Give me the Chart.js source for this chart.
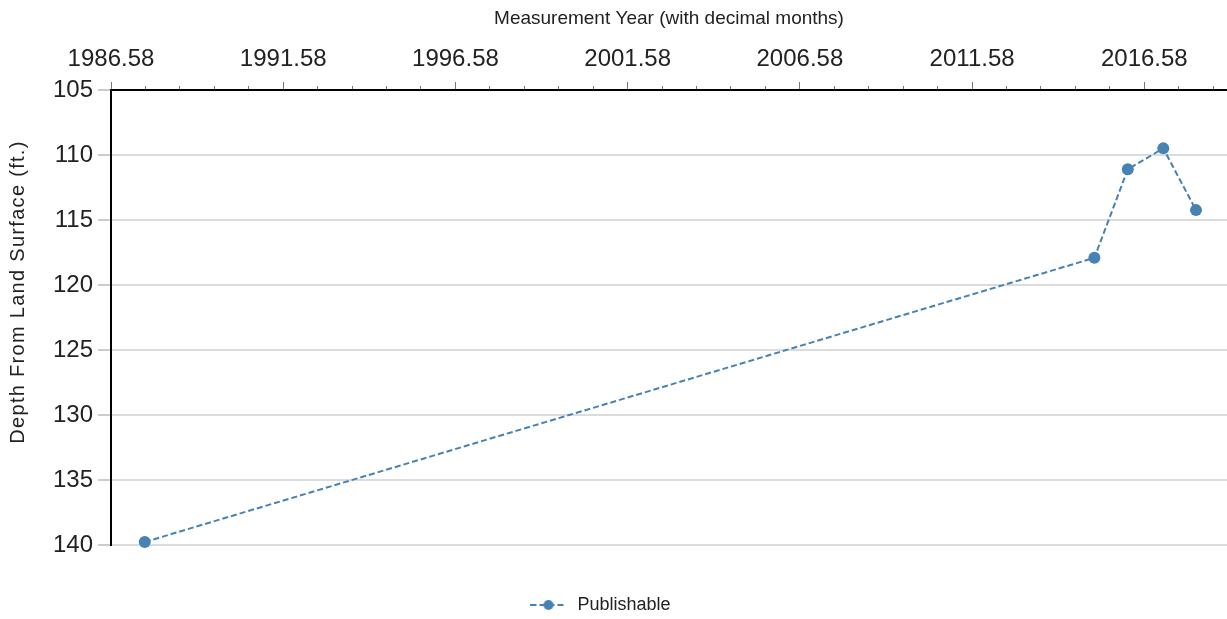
<!DOCTYPE html>
<html><head><meta charset="utf-8">
<script src="https://cdn.jsdelivr.net/npm/chart.js@4"></script>
<style>html,body{margin:0;padding:0;background:#fff;} canvas{display:block;}</style>
</head><body>
<canvas id="c" width="1227" height="619"></canvas>
<script>
// ---- data ----
const measurementYears = [1987.56, 2015.13, 2016.10, 2017.13, 2018.08];
const depthValues = [139.77, 117.91, 111.10, 109.49, 114.24];
const seriesName = 'Publishable';
const majorTickLabels = ['1986.58', '1991.58', '1996.58', '2001.58', '2006.58', '2011.58', '2016.58'];
const depthTicks = [105, 110, 115, 120, 125, 130, 135, 140];
const xTitle = 'Measurement Year (with decimal months)';
const yTitle = 'Depth From Land Surface (ft.)';

// ---- styling ----
const FONT = 'Arial, "Liberation Sans", Helvetica, sans-serif';
const COLOR = '#4682b4';
const X_MIN = 1986.58, X_MAX = 2018.98;

const xTickValues = [];
for (let k = 0; k <= 32; k++) xTickValues.push(Math.round((X_MIN + k) * 100) / 100);
const majorValues = majorTickLabels.map(Number);
const isMajor = v => majorValues.some(m => Math.abs(m - v) < 1e-6);

function legendSymbol() {
  const c = document.createElement('canvas');
  c.width = 36; c.height = 12;
  const g = c.getContext('2d');
  g.strokeStyle = COLOR; g.lineWidth = 2; g.setLineDash([6, 3]);
  g.beginPath(); g.moveTo(0, 6); g.lineTo(36, 6); g.stroke();
  g.setLineDash([]);
  g.fillStyle = COLOR; g.beginPath(); g.arc(18, 6, 5, 0, Math.PI * 2); g.fill();
  return c;
}

const legendShift = {
  id: 'legendShift',
  afterLayout(chart) {
    const l = chart.legend;
    if (l) { l.left -= 14; l.right -= 14; }
  }
};

const yTitlePlugin = {
  id: 'yTitlePlugin',
  afterDraw(chart) {
    const ctx = chart.ctx;
    ctx.save();
    ctx.translate(18, 292);
    ctx.rotate(-Math.PI / 2);
    ctx.font = '20px ' + FONT;
    try { ctx.letterSpacing = '1.3px'; } catch (e) {}
    ctx.fillStyle = '#222';
    ctx.textAlign = 'center';
    ctx.textBaseline = 'middle';
    ctx.fillText(yTitle, 0, 0);
    ctx.restore();
  }
};

new Chart(document.getElementById('c'), {
  type: 'line',
  data: {
    datasets: [{
      label: seriesName,
      data: measurementYears.map((x, i) => ({ x, y: depthValues[i] })),
      borderColor: COLOR,
      backgroundColor: COLOR,
      borderWidth: 2,
      borderDash: [6, 3],
      pointRadius: 6,
      pointBorderWidth: 0,
      pointBackgroundColor: COLOR,
      tension: 0,
      clip: false
    }]
  },
  options: {
    responsive: false,
    animation: false,
    layout: { padding: 0, autoPadding: false },
    scales: {
      x: {
        type: 'linear', position: 'top', min: X_MIN, max: X_MAX,
        afterBuildTicks: s => { s.ticks = xTickValues.map(v => ({ value: v })); },
        afterFit: s => { s.height = 90; s.paddingLeft = 0; s.paddingRight = 0; },
        ticks: {
          autoSkip: false, maxRotation: 0, padding: 8,
          font: { family: FONT, size: 24 }, color: '#222',
          callback: v => {
            const m = majorTickLabels.find(l => Math.abs(Number(l) - v) < 1e-6);
            return m || '';
          }
        },
        grid: {
          drawOnChartArea: false, drawTicks: true, tickLength: 8,
          tickColor: '#777', tickWidth: 1,
          tickBorderDash: ctx => (ctx.tick && !isMajor(ctx.tick.value)) ? [0, 4, 20, 0] : []
        },
        border: { display: true, color: '#000', width: 2 },
        title: {
          display: true, text: xTitle, color: '#222',
          font: { family: FONT, size: 19 }, padding: { top: 7, bottom: 0 }
        }
      },
      y: {
        type: 'linear', reverse: true, min: 105, max: 140,
        afterBuildTicks: s => { s.ticks = depthTicks.map(v => ({ value: v })); },
        afterFit: s => { s.width = 111; s.paddingTop = 0; s.paddingBottom = 0; },
        ticks: { padding: 5, font: { family: FONT, size: 24 }, color: '#222' },
        grid: { color: '#dcdcdc', lineWidth: 2, tickLength: 13, tickColor: '#999', tickWidth: 1 },
        border: { display: true, color: '#000', width: 2 },
        title: { display: false, text: yTitle }
      }
    },
    plugins: {
      tooltip: { enabled: false },
      legend: {
        position: 'bottom',
        maxHeight: 74,
        labels: {
          padding: 51,
          usePointStyle: true,
          pointStyleWidth: 40,
          font: { family: FONT, size: 18 },
          color: '#222',
          generateLabels: () => [{
            text: seriesName,
            pointStyle: legendSymbol(),
            fillStyle: COLOR, strokeStyle: COLOR, lineWidth: 0,
            hidden: false, datasetIndex: 0, fontColor: '#222'
          }]
        }
      }
    }
  },
  plugins: [legendShift, yTitlePlugin]
});
</script>
</body></html>
